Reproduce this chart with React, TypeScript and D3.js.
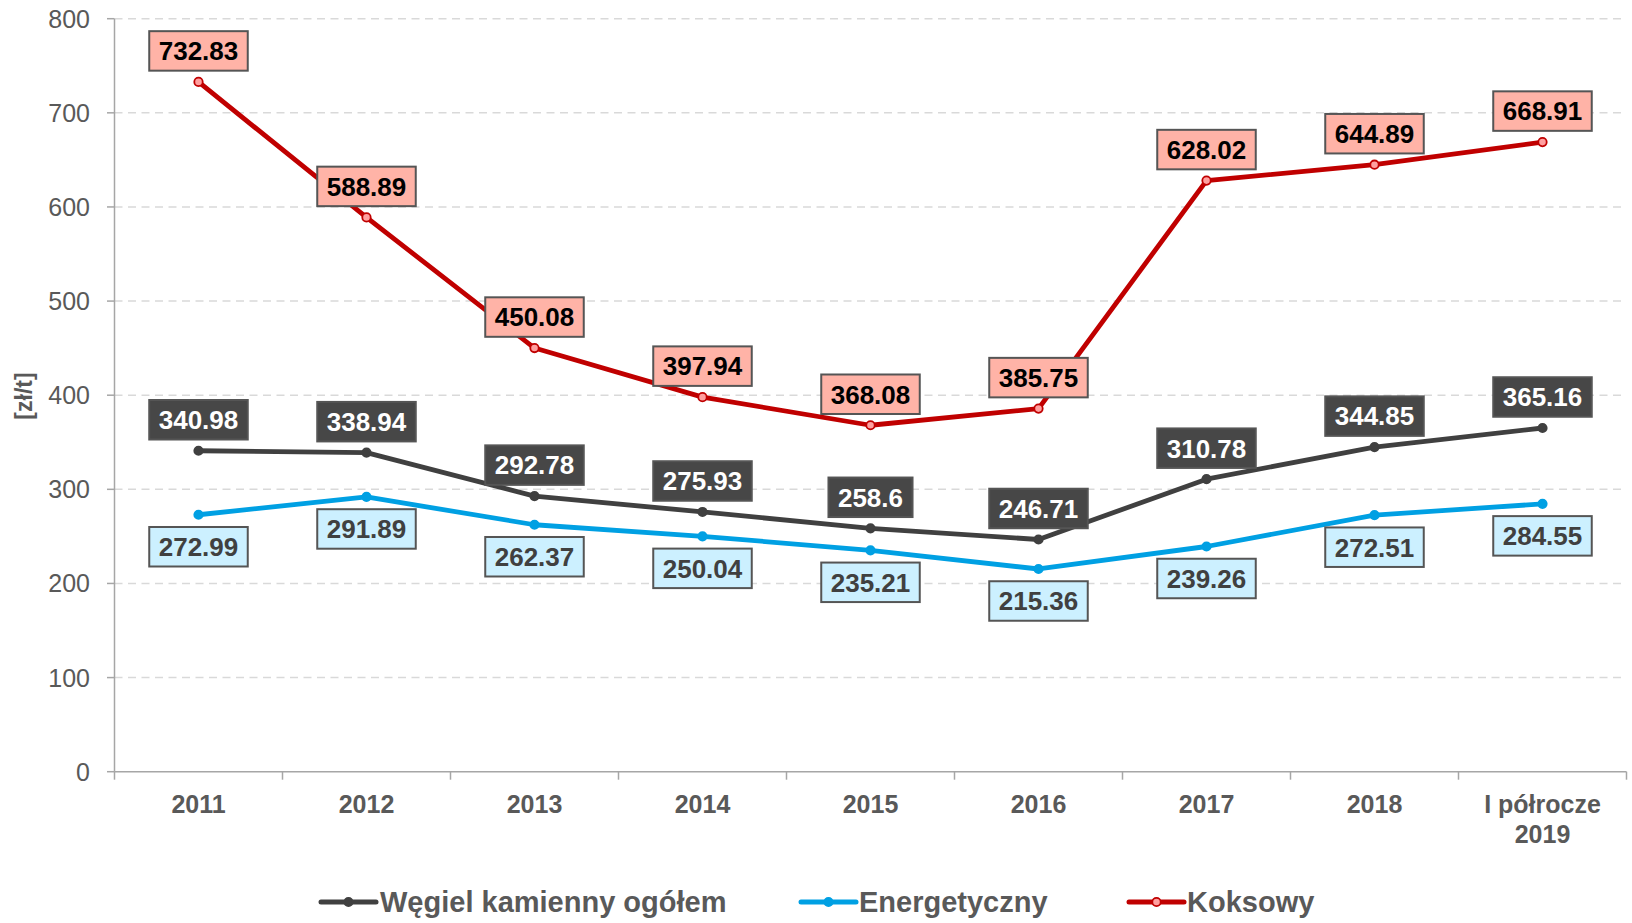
import React from "react";
import * as d3 from "d3";

const categories = ["2011", "2012", "2013", "2014", "2015", "2016", "2017", "2018", "I półrocze\n2019"];
const wegielValues = [340.98, 338.94, 292.78, 275.93, 258.6, 246.71, 310.78, 344.85, 365.16];
const energetycznyValues = [272.99, 291.89, 262.37, 250.04, 235.21, 215.36, 239.26, 272.51, 284.55];
const koksowyValues = [732.83, 588.89, 450.08, 397.94, 368.08, 385.75, 628.02, 644.89, 668.91];
const yTicks = [0, 100, 200, 300, 400, 500, 600, 700, 800];
const yTitle = "[zł/t]";

const W = 1632;
const H = 923;
const left = 114.5;
const right = 1626.5;
const top = 18.7;
const bottom = 771.7;

const AXIS = "#a6a6a6";
const TXT = "#595959";
const FONT = "'Liberation Sans', Arial, sans-serif";

type Series = {
  name: string;
  values: number[];
  color: string;
  markerFill: string;
  markerStroke: string;
  boxFill: string;
  boxText: string;
  offset: number;
};

const series: Series[] = [
  { name: "Węgiel kamienny ogółem", values: wegielValues, color: "#404040", markerFill: "#404040", markerStroke: "#404040", boxFill: "#474747", boxText: "#ffffff", offset: -31 },
  { name: "Energetyczny", values: energetycznyValues, color: "#00a0e3", markerFill: "#00a0e3", markerStroke: "#00a0e3", boxFill: "#ccf0ff", boxText: "#404040", offset: 32 },
  { name: "Koksowy", values: koksowyValues, color: "#c00000", markerFill: "#ff9f9f", markerStroke: "#c00000", boxFill: "#ffb3a7", boxText: "#000000", offset: -31 },
];

const legendPos = [
  { lineX: 321, textX: 380 },
  { lineX: 801, textX: 859 },
  { lineX: 1129, textX: 1187 },
];

function textWidth(s: string, size: number) {
  let w = 0;
  for (const c of s) w += c === "." ? 0.278 : 0.556;
  return w * size;
}

export default function App() {
  const x = d3.scaleBand<string>().domain(categories).range([left, right]).padding(0);
  const y = d3.scaleLinear().domain([0, 800]).range([bottom, top]);
  const cx = (i: number) => (x(categories[i]) as number) + x.bandwidth() / 2;
  const line = d3
    .line<number>()
    .x((_, i) => cx(i))
    .y((d) => y(d));
  const boundaries = categories.map((c) => x(c) as number).concat([right]);

  return (
    <svg width={W} height={H} style={{ position: "fixed", left: 0, top: 0, background: "#fff" }} fontFamily={FONT}>
      {/* grid */}
      {yTicks.filter((t) => t > 0).map((t) => (
        <line key={"g" + t} x1={left} x2={right} y1={y(t)} y2={y(t)} stroke="#d9d9d9" strokeWidth={1.5} strokeDasharray="8,5.5" />
      ))}
      {/* y axis */}
      <line x1={left} x2={left} y1={top} y2={bottom} stroke={AXIS} strokeWidth={1.5} />
      {yTicks.map((t) => (
        <g key={"y" + t}>
          <line x1={left - 7.5} x2={left} y1={y(t)} y2={y(t)} stroke={AXIS} strokeWidth={1.5} />
          <text x={90} y={y(t)} dy="0.36em" textAnchor="end" fontSize={25} fill={TXT}>{t}</text>
        </g>
      ))}
      <text transform={`translate(32,396) rotate(-90)`} textAnchor="middle" fontSize={23} fontWeight="bold" fill={TXT}>{yTitle}</text>
      {/* x axis */}
      <line x1={left} x2={right} y1={bottom} y2={bottom} stroke={AXIS} strokeWidth={1.5} />
      {boundaries.map((b, i) => (
        <line key={"xt" + i} x1={b} x2={b} y1={bottom} y2={bottom + 8} stroke={AXIS} strokeWidth={1.5} />
      ))}
      {categories.map((c, i) => (
        <text key={"xl" + i} x={cx(i)} y={813} textAnchor="middle" fontSize={25} fontWeight="bold" fill={TXT}>
          {c.split("\n").map((part, j) => (
            <tspan key={j} x={cx(i)} dy={j === 0 ? 0 : 30}>{part}</tspan>
          ))}
        </text>
      ))}
      {/* lines */}
      {series.map((s) => (
        <g key={"s" + s.name}>
          <path d={line(s.values) as string} fill="none" stroke={s.color} strokeWidth={4.8} strokeLinejoin="round" />
          {s.values.map((v, i) => (
            <circle key={i} cx={cx(i)} cy={y(v)} r={4.2} fill={s.markerFill} stroke={s.markerStroke} strokeWidth={1.8} />
          ))}
        </g>
      ))}
      {/* labels */}
      {series.map((s) => (
        <g key={"l" + s.name}>
          {s.values.map((v, i) => {
            const label = String(v);
            const tw = textWidth(label, 26);
            const bw = tw + 19;
            const bh = 39.5;
            const ly = y(v) + s.offset;
            return (
              <g key={i}>
                <rect x={cx(i) - bw / 2} y={ly - bh / 2} width={bw} height={bh} fill={s.boxFill} stroke="#555555" strokeWidth={2} />
                <text x={cx(i)} y={ly} dy="0.36em" textAnchor="middle" fontSize={26} fontWeight="bold" fill={s.boxText}>{label}</text>
              </g>
            );
          })}
        </g>
      ))}
      {/* legend */}
      {series.map((s, i) => (
        <g key={"lg" + i}>
          <line x1={legendPos[i].lineX} x2={legendPos[i].lineX + 55} y1={902} y2={902} stroke={s.color} strokeWidth={5} strokeLinecap="round" />
          <circle cx={legendPos[i].lineX + 27.5} cy={902} r={4.2} fill={s.markerFill} stroke={s.markerStroke} strokeWidth={1.8} />
          <text x={legendPos[i].textX} y={902} dy="0.36em" fontSize={29} fontWeight="bold" fill={TXT}>{s.name}</text>
        </g>
      ))}
    </svg>
  );
}
